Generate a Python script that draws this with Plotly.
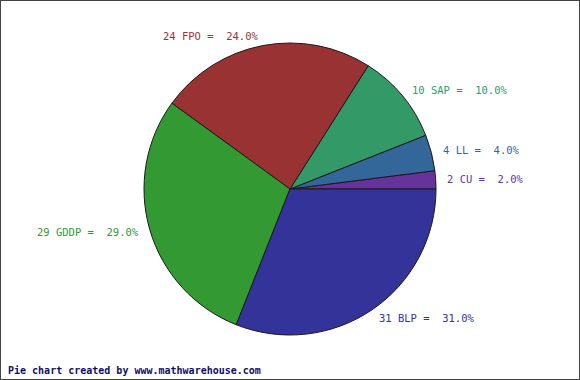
import math
import plotly.graph_objects as go

labels = ["CU", "LL", "SAP", "FPO", "GDDP", "BLP"]
values = [2, 4, 10, 24, 29, 31]
colors = ["#663399", "#336699", "#339966", "#993333", "#339933", "#333399"]

W, H = 580, 380
CX, CY, R = 290, 189, 146

total = sum(values)

fig = go.Figure(go.Pie(
    labels=labels, values=values, sort=False, direction="counterclockwise",
    rotation=90 - values[0] / total * 360, textinfo="none",
    hoverinfo="label+value+percent",
    marker=dict(colors=colors, line=dict(color="#1a1a1a", width=1)),
    domain=dict(x=[(CX - R) / W, (CX + R) / W], y=[(H - CY - R) / H, (H - CY + R) / H]),
    showlegend=False,
))

start = 0.0
annotations = []
for lab, v, c in zip(labels, values, colors):
    mid = start + v / total * 360 / 2
    start += v / total * 360
    a = math.radians(mid)
    rl = R * 1.065
    px = CX + rl * math.cos(a)
    py = CY - rl * math.sin(a)
    annotations.append(dict(
        x=px / W, y=1 - py / H, xref="paper", yref="paper",
        text=f"{v} {lab} =  {v / total * 100:.1f}%", showarrow=False,
        xanchor="left" if math.cos(a) >= 0 else "right", yanchor="middle",
        font=dict(family="DejaVu Sans Mono", size=10.5, color=c),
    ))

annotations.append(dict(
    x=6 / W, y=1 - 370 / H, xref="paper", yref="paper",
    text="<b>Pie chart created by www.mathwarehouse.com</b>", showarrow=False,
    xanchor="left", yanchor="middle",
    font=dict(family="DejaVu Sans Mono", size=10, color="#101060"),
))

fig.update_layout(
    width=W, height=H, margin=dict(l=0, r=0, t=0, b=0),
    paper_bgcolor="white", plot_bgcolor="white",
    annotations=annotations,
    shapes=[dict(type="rect", xref="paper", yref="paper", x0=0, y0=0, x1=1, y1=1,
                 line=dict(color="#444444", width=2))],
)

fig.write_html("out.html")
